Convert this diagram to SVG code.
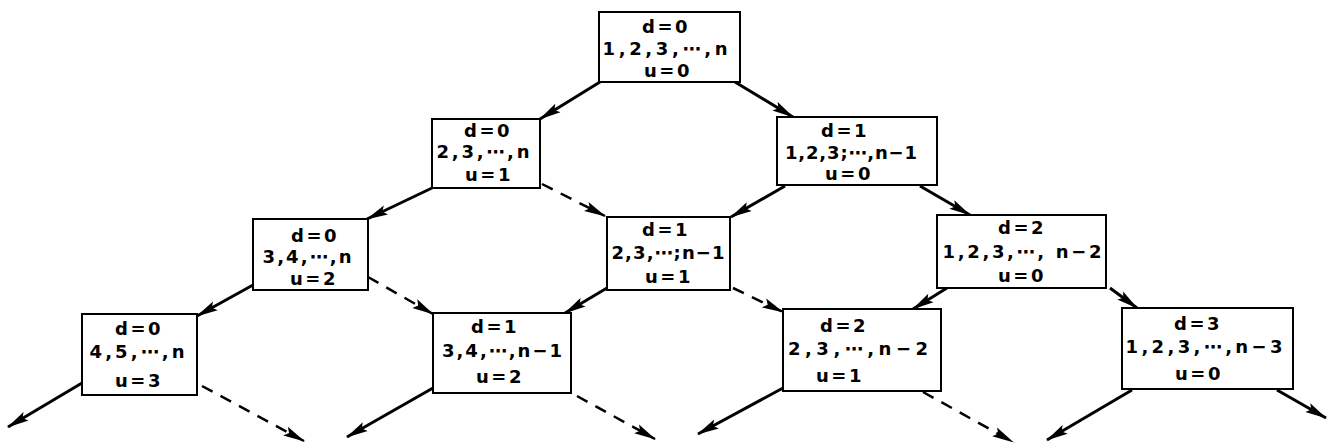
<svg xmlns="http://www.w3.org/2000/svg" width="1328" height="444" viewBox="0 0 1328 444">
<defs>
<marker id="ah" markerUnits="userSpaceOnUse" markerWidth="24" markerHeight="12" refX="21" refY="5.5" orient="auto">
<path d="M0,0.5 L22,5.5 L0,10.5 L4,5.5 z" fill="#000"/>
</marker>
<style>
rect.box{fill:#fff;stroke:#000;stroke-width:2}
text{font-family:"DejaVu Sans","Liberation Sans",sans-serif;font-size:18px;font-weight:bold;fill:#000;text-anchor:middle}
text.k{letter-spacing:2.5px}
.s{stroke:#000;stroke-width:3;fill:none;marker-end:url(#ah)}
.d{stroke:#000;stroke-width:2.5;fill:none;stroke-dasharray:12 9;marker-end:url(#ah)}
</style>
</defs>
<rect width="1328" height="444" fill="#fff"/>
<g id="connectors">
<line class="s" x1="600" y1="82" x2="540" y2="119"/>
<line class="s" x1="735" y1="82" x2="793" y2="117"/>
<line class="s" x1="432" y1="188" x2="367" y2="219"/>
<line class="d" x1="542" y1="184" x2="605" y2="216"/>
<line class="s" x1="785" y1="186" x2="731" y2="217"/>
<line class="s" x1="920" y1="186" x2="970" y2="215"/>
<line class="s" x1="253" y1="285" x2="197" y2="316"/>
<line class="d" x1="368" y1="277" x2="433" y2="314"/>
<line class="s" x1="607" y1="288" x2="565" y2="313"/>
<line class="d" x1="733" y1="288" x2="783" y2="312"/>
<line class="s" x1="947" y1="288" x2="913" y2="309"/>
<line class="s" x1="1110" y1="288" x2="1137" y2="308"/>
<line class="s" x1="82" y1="383" x2="8" y2="427"/>
<line class="d" x1="202" y1="386" x2="304" y2="441"/>
<line class="s" x1="433" y1="388" x2="347" y2="437"/>
<line class="d" x1="577" y1="396" x2="655" y2="439"/>
<line class="s" x1="783" y1="388" x2="698" y2="434"/>
<line class="d" x1="923" y1="392" x2="1013" y2="442"/>
<line class="s" x1="1132" y1="390" x2="1047" y2="440"/>
<line class="s" x1="1277" y1="390" x2="1326" y2="418"/>
</g>
<g id="n0">
<rect class="box" x="599" y="12" width="141" height="70"/>
<text class="k" x="666" y="33">d=0</text>
<text x="665" y="55" textLength="125" lengthAdjust="spacing">1,2,3,⋯,n</text>
<text class="k" x="668" y="77">u=0</text>
</g>
<g id="n1a">
<rect class="box" x="432" y="119" width="108" height="69"/>
<text class="k" x="488" y="137">d=0</text>
<text x="483" y="158" textLength="93" lengthAdjust="spacing">2,3,⋯,n</text>
<text class="k" x="489" y="181">u=1</text>
</g>
<g id="n1b">
<rect class="box" x="777" y="117" width="160" height="68"/>
<text class="k" x="845" y="137">d=1</text>
<text x="851" y="159" textLength="132" lengthAdjust="spacing">1,2,3;⋯,n−1</text>
<text class="k" x="849" y="180">u=0</text>
</g>
<g id="n2a">
<rect class="box" x="253" y="219" width="115" height="71"/>
<text class="k" x="315" y="242">d=0</text>
<text x="307" y="263" textLength="89" lengthAdjust="spacing">3,4,⋯,n</text>
<text class="k" x="314" y="285">u=2</text>
</g>
<g id="n2b">
<rect class="box" x="607" y="217" width="123" height="73"/>
<text class="k" x="666" y="236">d=1</text>
<text x="668" y="259" textLength="113" lengthAdjust="spacing">2,3,⋯;n−1</text>
<text class="k" x="669" y="283">u=1</text>
</g>
<g id="n2c">
<rect class="box" x="937" y="215" width="169" height="73"/>
<text class="k" x="1022" y="234">d=2</text>
<text x="1022" y="258" textLength="159" lengthAdjust="spacing">1,2,3,⋯, n−2</text>
<text class="k" x="1022" y="282">u=0</text>
</g>
<g id="n3a">
<rect class="box" x="82" y="314" width="115" height="81"/>
<text class="k" x="139" y="335">d=0</text>
<text x="137" y="358" textLength="95" lengthAdjust="spacing">4,5,⋯,n</text>
<text class="k" x="139" y="387">u=3</text>
</g>
<g id="n3b">
<rect class="box" x="433" y="313" width="138" height="80"/>
<text class="k" x="495" y="333">d=1</text>
<text x="502" y="357" textLength="120" lengthAdjust="spacing">3,4,⋯,n−1</text>
<text class="k" x="500" y="383">u=2</text>
</g>
<g id="n3c">
<rect class="box" x="783" y="309" width="158" height="82"/>
<text class="k" x="844" y="332">d=2</text>
<text x="858" y="355" textLength="140" lengthAdjust="spacing">2,3,⋯,n−2</text>
<text class="k" x="840" y="382">u=1</text>
</g>
<g id="n3d">
<rect class="box" x="1122" y="308" width="171" height="81"/>
<text class="k" x="1198" y="330">d=3</text>
<text x="1204" y="353" textLength="157" lengthAdjust="spacing">1,2,3,⋯,n−3</text>
<text class="k" x="1199" y="380">u=0</text>
</g>
</svg>
